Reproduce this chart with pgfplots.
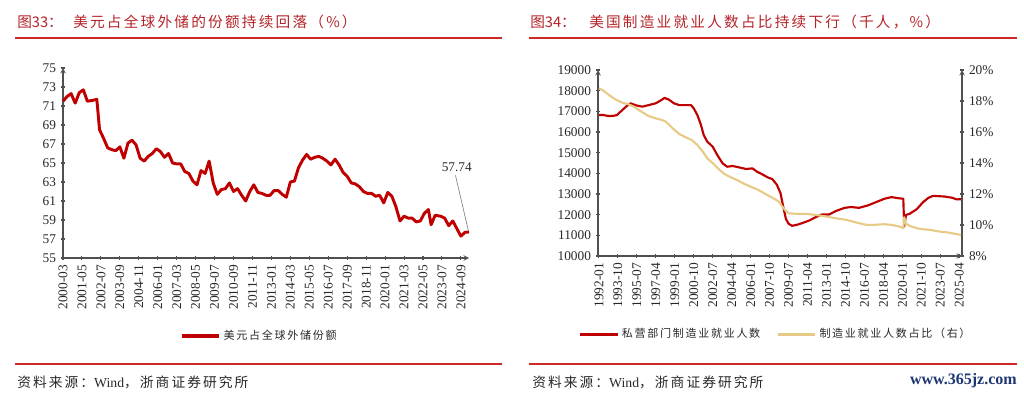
\documentclass[border=0pt]{standalone}
\usepackage{pgfplots}
\pgfplotsset{compat=1.18}
\usepackage{fontspec}
\setmainfont{Liberation Serif}
\newfontfamily\cjk{Noto Sans CJK SC}
\newfontfamily\cjkt{Noto Sans CJK SC}[LetterSpace=15]
\newfontfamily\cjkl{Noto Sans CJK SC}[LetterSpace=15]
\definecolor{cred}{RGB}{192,0,0}
\definecolor{cyel}{RGB}{232,202,135}
\definecolor{ttl}{RGB}{180,35,40}
\definecolor{rulec}{RGB}{205,40,40}
\definecolor{axg}{RGB}{80,80,80}
\definecolor{txt}{RGB}{40,40,40}
\definecolor{wm}{RGB}{30,55,115}

\pgfplotstableread{
m v
0 71.5
3 72.0
6 72.3
9 71.3
12 72.4
15 72.7
18 71.5
22 71.6
25 71.7
27 68.5
30 67.6
33 66.6
36 66.4
39 66.3
42 66.7
45 65.5
48 67.1
51 67.4
54 66.9
57 65.5
60 65.2
63 65.7
66 66.0
69 66.5
72 66.2
75 65.6
78 66.0
81 65.0
84 64.9
87 64.9
90 64.1
93 63.9
96 63.1
99 62.7
102 64.2
105 63.9
108 65.2
111 62.9
114 61.7
117 62.2
120 62.3
123 62.9
126 62.0
129 62.3
132 61.6
135 61.0
138 62.0
141 62.7
144 61.9
147 61.8
150 61.6
153 61.6
156 62.1
159 62.1
162 61.7
165 61.4
168 63.0
171 63.1
174 64.5
177 65.3
180 65.9
183 65.4
186 65.6
189 65.7
192 65.5
195 65.2
198 64.8
201 65.4
204 64.8
207 64.0
210 63.6
213 62.9
216 62.8
219 62.5
222 62.0
225 61.8
228 61.8
231 61.5
234 61.6
237 60.8
240 61.9
243 61.5
246 60.4
249 58.9
252 59.4
255 59.2
258 59.2
261 58.8
264 58.9
267 59.7
270 60.1
272 58.5
275 59.5
279 59.4
282 59.2
285 58.4
288 58.9
291 58.1
294 57.3
297 57.7
300 57.74
}\usd

\pgfplotstableread{
m v
0 16823
5 16820
11 16770
17 16790
20 16820
24 16985
30 17226
35 17390
41 17290
48 17226
55 17300
63 17390
68 17516
73 17660
75 17600
77 17580
83 17390
89 17300
96 17300
102 17300
105 17145
109 16820
113 16340
116 15855
120 15530
126 15290
131 14890
137 14480
142 14320
148 14355
155 14290
163 14210
170 14240
175 14080
181 13950
187 13800
192 13720
197 13450
201 13050
204 12400
207 11800
210 11560
214 11460
220 11520
225 11590
233 11720
240 11880
247 12010
255 12010
262 12170
272 12330
279 12370
288 12330
298 12450
307 12610
316 12770
324 12850
331 12800
337 12770
338 11430
340 11990
344 12040
352 12270
359 12610
365 12820
370 12910
382 12880
391 12820
396 12740
401 12750
}\emp

\pgfplotstableread{
m v
0 18.82
5 18.67
11 18.39
18 18.11
26 17.89
33 17.78
39 17.63
46 17.35
55 17.03
63 16.88
70 16.77
74 16.67
78 16.45
83 16.17
89 15.87
96 15.66
103 15.48
109 15.16
115 14.73
120 14.30
127 13.94
133 13.59
139 13.29
146 13.08
153 12.90
161 12.65
168 12.47
176 12.28
186 11.95
193 11.73
199 11.52
203 11.19
206 10.98
210 10.76
218 10.72
229 10.72
240 10.65
251 10.55
262 10.44
274 10.33
285 10.16
296 10.01
305 10.01
315 10.05
324 10.01
333 9.90
337 9.79
338 10.5
340 10.07
346 9.90
355 9.75
367 9.68
378 9.57
387 9.51
395 9.42
401 9.36
}\shr

\pgfplotsset{
  base/.style={
    scale only axis,
    /pgf/number format/assume math mode=true,
    /pgf/number format/1000 sep={},
    tick label style={font=\fontsize{10}{12}\selectfont, text=txt},
    axis line style={axg, line width=0.8pt, -},
    every tick/.style={axg, line width=0.8pt},
    tick align=outside,
    major tick length=3.5pt,
    xticklabel style={rotate=90, anchor=east},
    legend cell align=left,
    legend style={draw=none, fill=none, font=\cjkl\fontsize{8.3}{10}\selectfont, text=txt},
    legend image code/.code={\draw[#1, line width=2.4pt] (0pt,0pt) -- (28pt,0pt);},
  }
}

\begin{document}
\begin{tikzpicture}[x=0.75pt,y=0.75pt]
\useasboundingbox (0,0) rectangle (1024,397);

% ---------- headers and footers ----------
\node[anchor=west, inner sep=0pt, text=ttl, font=\cjk\fontsize{11}{13}\selectfont] at (17,375) {图33：};
\node[anchor=west, inner sep=0pt, text=ttl, font=\cjkt\fontsize{11}{13}\selectfont] at (73,375) {美元占全球外储的份额持续回落（\%）};
\draw[rulec, line width=1.2pt] (15,359) -- (502,359);
\draw[rulec, line width=1.0pt] (15,33) -- (502,33);
\node[anchor=west, inner sep=0pt, text=txt, font=\fontsize{10.3}{12}\selectfont] at (17,15) {{\cjkt 资料来源：}Wind{\cjkt ，浙商证券研究所}};

\node[anchor=west, inner sep=0pt, text=ttl, font=\cjk\fontsize{11}{13}\selectfont] at (530,375) {图34：};
\node[anchor=west, inner sep=0pt, text=ttl, font=\cjkt\fontsize{11}{13}\selectfont] at (589,375) {美国制造业就业人数占比持续下行（千人，\%）};
\draw[rulec, line width=1.2pt] (529,359) -- (1017,359);
\draw[rulec, line width=1.0pt] (529,33) -- (1017,33);
\node[anchor=west, inner sep=0pt, text=txt, font=\fontsize{10.3}{12}\selectfont] at (532,15) {{\cjkt 资料来源：}Wind{\cjkt ，浙商证券研究所}};
\node[anchor=east, inner sep=0pt, text=wm, font=\bfseries\fontsize{12}{14}\selectfont] at (1017,16) {www.365jz.com};

% ---------- left chart ----------
\begin{axis}[base,
  at={(47.25pt,104.25pt)}, anchor=south west,
  width=304.5pt, height=142.5pt,
  axis x line=bottom, axis y line=left,
  xmin=0, xmax=300, ymin=55, ymax=75,
  ytick={55,57,...,75},
  xtick={0,14,...,294},
  xticklabels={2000-03,2001-05,2002-07,2003-09,2004-11,2006-01,2007-03,2008-05,2009-07,2010-09,2011-11,2013-01,2014-03,2015-05,2016-07,2017-09,2018-11,2020-01,2021-03,2022-05,2023-07,2024-09},
  legend style={at={(0.485,-0.41)}, anchor=center},
  clip=false,
]
\addplot[cred, line width=2.2pt, line join=round] table[x=m,y=v]{\usd};
\addlegendentry{美元占全球外储份额}
\node[font=\fontsize{10}{12}\selectfont, text=txt] at (axis cs:291,64.6) {57.74};
\draw[gray, line width=0.5pt] (axis cs:290,63.7) -- (axis cs:299.5,57.9);
\end{axis}

% ---------- right chart ----------
\begin{axis}[base,
  at={(448.5pt,105.75pt)}, anchor=south west,
  width=273pt, height=139.5pt,
  axis x line=bottom, axis y line=left,
  xmin=-1, xmax=402, ymin=10000, ymax=19000,
  ytick={10000,11000,...,19000},
  scaled y ticks=false,
  xtick={0,21,...,399},
  xticklabels={1992-01,1993-10,1995-07,1997-04,1999-01,2000-10,2002-07,2004-04,2006-01,2007-10,2009-07,2011-04,2013-01,2014-10,2016-07,2018-04,2020-01,2021-10,2023-07,2025-04},
]
\addplot[cred, line width=1.6pt, line join=round] table[x=m,y=v]{\emp};
\end{axis}
\begin{axis}[base,
  at={(448.5pt,105.75pt)}, anchor=south west,
  width=273pt, height=139.5pt,
  axis x line=none, axis y line=right,
  xmin=-1, xmax=402, ymin=8, ymax=20,
  ytick={8,10,...,20},
  yticklabel={\pgfmathprintnumber{\tick}\%},
  legend columns=2,
  legend style={at={(0.489,-0.42)}, anchor=center,
    /tikz/every even column/.append style={column sep=10pt}},
]
\addlegendimage{cred}
\addlegendentry{私营部门制造业就业人数}
\addplot[cyel, line width=1.6pt, line join=round] table[x=m,y=v]{\shr};
\addlegendentry{制造业就业人数占比（右）}
\end{axis}
\end{tikzpicture}
\end{document}
